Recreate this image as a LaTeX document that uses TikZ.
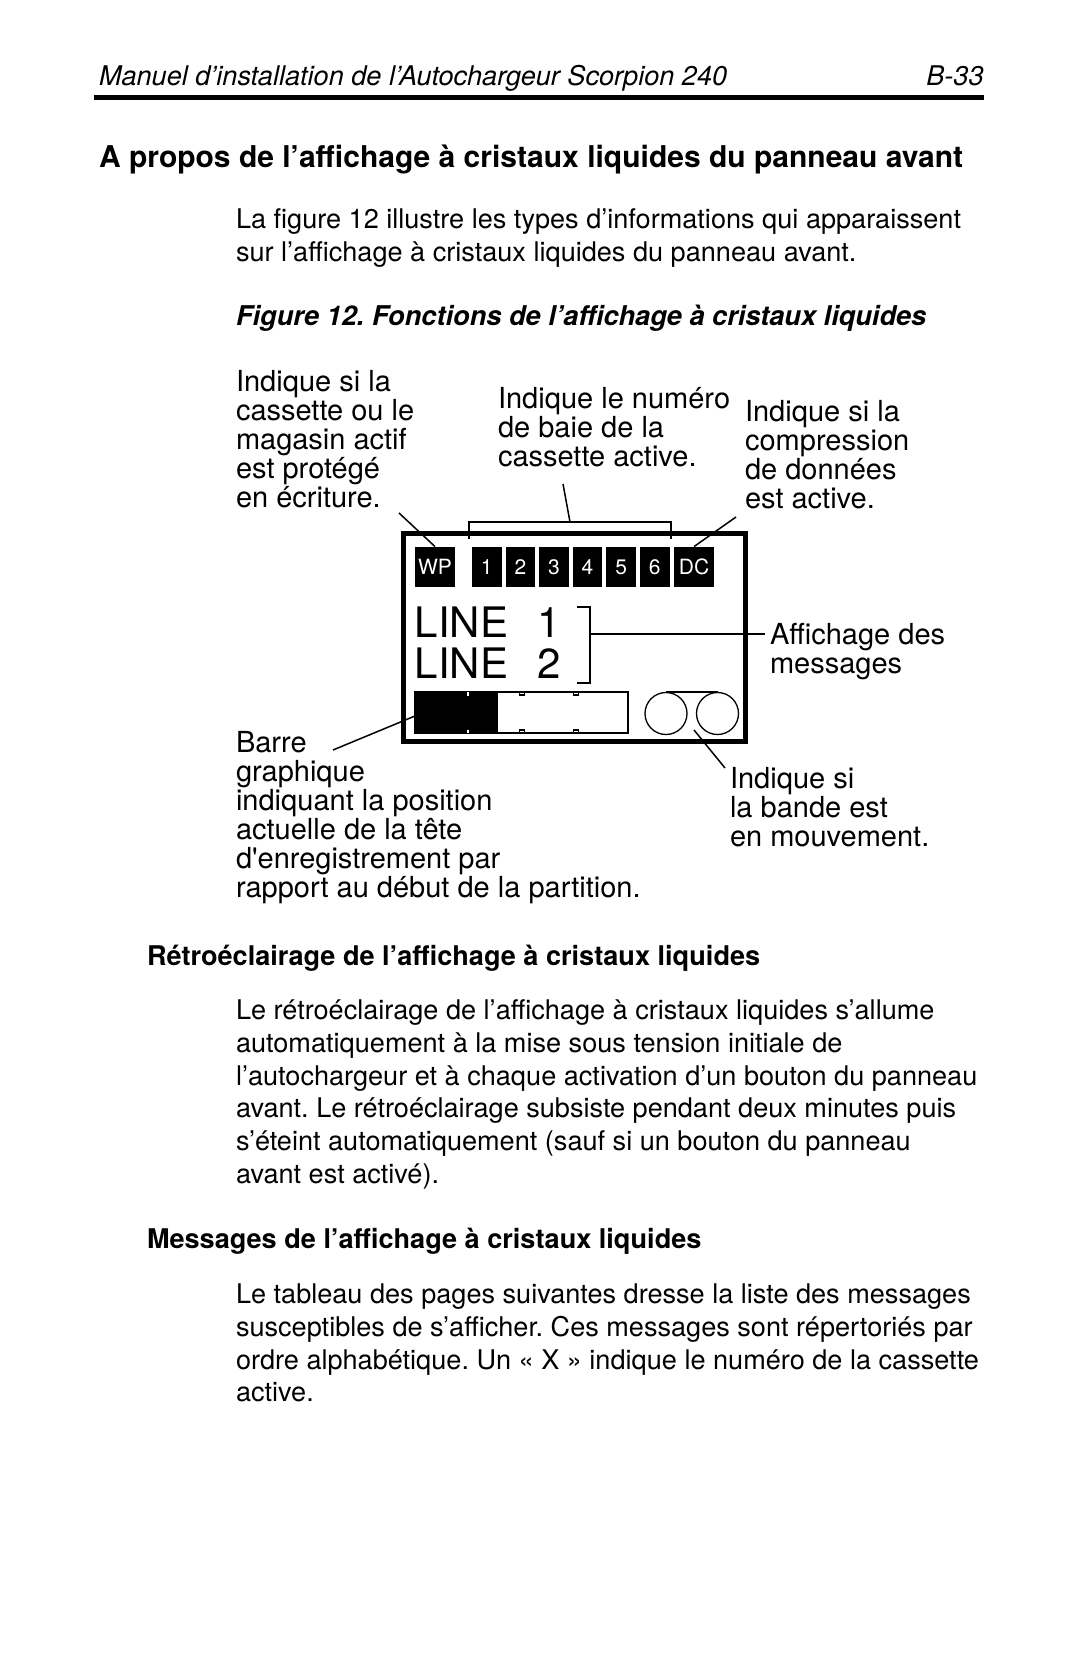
\documentclass[tikz,border=0pt]{standalone}
\usepackage{fontspec}
\newfontfamily\hv{TeX Gyre Heros}
\frenchspacing
\begin{document}
\frenchspacing
\begin{tikzpicture}[x=0.5pt,y=-0.5pt,
  txt/.style={anchor=base west, inner sep=0pt, outer sep=0pt},
  bodyf/.style={txt, font=\hv\frenchspacing\fontsize{13.55}{16}\selectfont},
  boldf/.style={txt, font=\hv\frenchspacing\bfseries\fontsize{13.55}{16}\selectfont},
  lbl/.style={txt, font=\hv\fontsize{14.5}{14.5}\selectfont},
  lcdf/.style={txt, font=\hv\fontsize{21}{21}\selectfont},
  ptr/.style={line width=0.75pt},
  sq/.style={fill=black, text=white, inner sep=0pt, minimum height=20pt,
    font=\hv\fontsize{10.5}{10.5}\selectfont},
  sqw/.style={sq, minimum width=20pt},
  sqn/.style={sq, minimum width=14.75pt},
  reel/.style={circle, draw, line width=0.65pt, inner sep=0pt, minimum size=21pt}
]
\path[use as bounding box, fill=white] (0,0) rectangle (1080,1669);

% header
\node[txt, font=\hv\itshape\fontsize{13.55}{16}\selectfont] (hdr) at (99,85.5) {Manuel d’installation de l’Autochargeur Scorpion 240};
\node[anchor=base east, inner sep=0pt, font=\hv\itshape\fontsize{13.55}{16}\selectfont] (pg) at (984,85.5) {B-33};
\draw[line width=2.75pt] (94,97.5) -- (984,97.5);

\node[txt, font=\hv\bfseries\fontsize{15}{18}\selectfont] (h1) at (99,167.5) {A propos de l’affichage à cristaux liquides du panneau avant};

\node[bodyf] (p1a) at (236,228.5) {La figure 12 illustre les types d’informations qui apparaissent};
\node[bodyf] (p1b) at (236,261.5) {sur l’affichage à cristaux liquides du panneau avant.};

\node[txt, font=\hv\frenchspacing\bfseries\itshape\fontsize{13.6}{16}\selectfont] (cap) at (236,325.5) {Figure 12. Fonctions de l’affichage à cristaux liquides};

% diagram labels
\node[lbl] (wl1) at (236,391) {Indique si la};
\node[lbl] (wl2) at (236,420) {cassette ou le};
\node[lbl] (wl3) at (236,449) {magasin actif};
\node[lbl] (wl4) at (236,478) {est protégé};
\node[lbl] (wl5) at (236,507) {en écriture.};

\node[lbl] (nl1) at (498,408) {Indique le numéro};
\node[lbl] (nl2) at (498,437) {de baie de la};
\node[lbl] (nl3) at (498,466) {cassette active.};

\node[lbl] (dl1) at (745,421) {Indique si la};
\node[lbl] (dl2) at (745,450) {compression};
\node[lbl] (dl3) at (745,479) {de données};
\node[lbl] (dl4) at (745,508) {est active.};

\node[lbl] (al1) at (770,644) {Affichage des};
\node[lbl] (al2) at (770,673) {messages};

\node[lbl] (bl1) at (236,752) {Barre};
\node[lbl] (bl2) at (236,781) {graphique};
\node[lbl] (bl3) at (236,810) {indiquant la position};
\node[lbl] (bl4) at (236,839) {actuelle de la tête};
\node[lbl] (bl5) at (236,868) {d\char"0027enregistrement par};
\node[lbl] (bl6) at (236,897) {rapport au début de la partition.};

\node[lbl] (tl1) at (730,788) {Indique si};
\node[lbl] (tl2) at (730,817) {la bande est};
\node[lbl] (tl3) at (730,846) {en mouvement.};

% LCD
\draw[line width=2.6pt] (403.5,533.5) rectangle (745.5,741.5);
\node[sqw] (wp) at (435,567) {WP};
\foreach \i in {1,...,6} {
  \node[sqn] (n\i) at ({486.75+(\i-1)*33.6},567) {\i};
}
\node[sqw] (dc) at (694,567) {DC};

% bracket over numbers
\draw[ptr] (469,539) -- (469,522) -- (671,522) -- (671,539);
\coordinate (brmid) at (570,522);
\coordinate (nlend) at (563,484);
\draw[ptr] (brmid) -- (nlend);

\coordinate (wpend) at (399,513);
\draw[ptr] (wpend) -- (wp.north);
\coordinate (dcend) at (736,517);
\draw[ptr] (dcend) -- (dc.north);

% lines
\node[lcdf] (lineA) at (414.8,637) {LINE};
\node[lcdf] (oneA) at (537.5,637) {1};
\node[lcdf] (lineB) at (414.8,678) {LINE};
\node[lcdf] (twoB) at (537.5,678) {2};
\draw[ptr] (577,607) -- (590,607) -- (590,683) -- (577,683);
\coordinate (brR) at (590,634);
\coordinate (msgend) at (765,634);
\draw[ptr] (brR) -- (msgend);

% progress bar
\fill (415,692) rectangle (498,733);
\draw[line width=0.8pt] (415,692) rectangle (628,733);
\draw[white, line width=0.6pt] (468,692) -- (468,695.5) (468,729.5) -- (468,733);
\foreach \xx in {522,576} {
  \draw[line width=0.6pt] (\xx-2.5,692) -- (\xx-2.5,695) -- (\xx+2.5,695) -- (\xx+2.5,692);
  \draw[line width=0.6pt] (\xx-2.5,733) -- (\xx-2.5,730) -- (\xx+2.5,730) -- (\xx+2.5,733);
}
\coordinate (barL) at (415,716);
\coordinate (barend) at (333,750);
\draw[ptr] (barend) -- (barL);

% reels
\node[reel] (r1) at (666,713.5) {};
\node[reel] (r2) at (717.5,713.5) {};
\draw[line width=0.65pt] (r1.north) -- (r2.north);
\coordinate (tapest) at (694,730);
\coordinate (tapeend) at (725,768);
\draw[ptr] (tapest) -- (tapeend);

% lower text
\node[boldf] (h2) at (147,965.5) {Rétroéclairage de l’affichage à cristaux liquides};
\node[bodyf] (p2a) at (236,1019.5) {Le rétroéclairage de l’affichage à cristaux liquides s’allume};
\node[bodyf] (p2b) at (236,1052.3) {automatiquement à la mise sous tension initiale de};
\node[bodyf] (p2c) at (236,1085.1) {l’autochargeur et à chaque activation d’un bouton du panneau};
\node[bodyf] (p2d) at (236,1117.9) {avant. Le rétroéclairage subsiste pendant deux minutes puis};
\node[bodyf] (p2e) at (236,1150.7) {s’éteint automatiquement (sauf si un bouton du panneau};
\node[bodyf] (p2f) at (236,1183.5) {avant est activé).};

\node[boldf] (h3) at (147,1248.5) {Messages de l’affichage à cristaux liquides};
\node[bodyf] (p3a) at (236,1303.5) {Le tableau des pages suivantes dresse la liste des messages};
\node[bodyf] (p3b) at (236,1336.3) {susceptibles de s’afficher. Ces messages sont répertoriés par};
\node[bodyf] (p3c) at (236,1369.1) {ordre alphabétique. Un « X » indique le numéro de la cassette};
\node[bodyf] (p3d) at (236,1401.9) {active.};
\end{tikzpicture}
\end{document}
